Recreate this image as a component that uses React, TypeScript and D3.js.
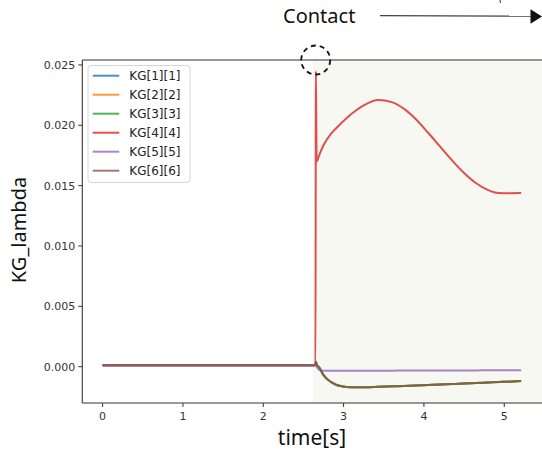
import React from "react";
import * as d3 from "d3";

// sampled times [s]
var timePre = [0, 0.5, 1.0, 1.5, 2.0, 2.5, 2.65];
var timePost = [2.655, 2.665, 2.7, 2.75, 2.85, 2.96, 3.1, 3.25, 3.43, 3.6, 3.75, 3.9, 4.05, 4.2, 4.35, 4.5, 4.65, 4.8, 4.93, 5.05, 5.21];
var times = timePre.concat(timePost);

// KG values (diag), same sample times as above
var preVals = [0.00012, 0.00012, 0.00012, 0.00012, 0.00012, 0.00012, 0.00012];

var kg4 = preVals.concat([0.0245, 0.0170, 0.0176, 0.01835, 0.01935, 0.0201, 0.02095, 0.02165, 0.0221, 0.02192, 0.02138, 0.0205, 0.0194, 0.01825, 0.0171, 0.01605, 0.0152, 0.01463, 0.01439, 0.01437, 0.01438]);
var kg5 = preVals.concat([0.00012, 0.0, -0.0003, -0.00033, -0.00033, -0.00033, -0.00033, -0.00033, -0.00033, -0.00033, -0.00032, -0.00032, -0.00032, -0.00032, -0.00031, -0.00031, -0.00031, -0.0003, -0.0003, -0.0003, -0.0003]);
var kgMain = preVals.concat([0.0004, 0.0002, -0.0001, -0.0007, -0.0013, -0.0016, -0.0017, -0.0017, -0.00167, -0.00163, -0.0016, -0.00156, -0.00152, -0.00148, -0.00144, -0.0014, -0.00135, -0.00131, -0.00127, -0.00124, -0.00119]);

var labels = ["KG[1][1]", "KG[2][2]", "KG[3][3]", "KG[4][4]", "KG[5][5]", "KG[6][6]"];
var colors = ["#1f77b4", "#ff7f0e", "#2ca02c", "#d62728", "#9467bd", "#8c564b"];
var seriesVals = [kgMain, kgMain, kgMain, kg4, kg5, kgMain];

var xTicks = [0, 1, 2, 3, 4, 5];
var yTicks = [0, 0.005, 0.01, 0.015, 0.02, 0.025];
var contactStart = 2.62;

export default function App() {
  var width = 542;
  var height = 450;
  var left = 82.3;
  var top = 60;
  var bottom = 403;
  var right = 560;

  var xScale = d3.scaleLinear().domain([-0.253, 5.47]).range([left, 542]);
  var yScale = d3.scaleLinear().domain([-0.00301, 0.02541]).range([bottom, top]);

  var line = d3
    .line<number>()
    .x((d, i) => xScale(times[i]))
    .y(d => yScale(d))
    .curve(d3.curveMonotoneX);

  var tickFont = "DejaVu Sans, sans-serif";
  var labelFont = "Noto Sans, sans-serif";

  return (
    <svg
      width={width}
      height={height}
      style={{ position: "absolute", left: 0, top: 0, background: "#fff" }}
    >
      <defs>
        <clipPath id="plotclip">
          <rect x={left} y={top} width={right - left} height={bottom - top} />
        </clipPath>
      </defs>

      {/* contact region */}
      <rect
        x={xScale(contactStart)}
        y={top}
        width={right - xScale(contactStart)}
        height={bottom - top}
        fill="#f6f8f1"
      />

      <g clipPath="url(#plotclip)">
        {seriesVals.map((vals, i) => (
          <path
            key={labels[i]}
            d={line(vals) || ""}
            fill="none"
            stroke={colors[i]}
            strokeWidth={2}
            strokeOpacity={0.8}
          />
        ))}
      </g>

      {/* frame */}
      <line x1={left} x2={left} y1={top} y2={bottom} stroke="#333" strokeWidth={1.1} />
      <line x1={left} x2={right} y1={top} y2={top} stroke="#333" strokeWidth={1.1} />
      <line x1={left} x2={right} y1={bottom} y2={bottom} stroke="#333" strokeWidth={1.1} />

      {xTicks.map(t => (
        <g key={"x" + t}>
          <line x1={xScale(t)} x2={xScale(t)} y1={bottom} y2={bottom + 4} stroke="#333" />
          <text
            x={xScale(t)}
            y={bottom + 17}
            textAnchor="middle"
            fontFamily={tickFont}
            fontSize={11}
            fill="#333"
          >
            {t}
          </text>
        </g>
      ))}

      {yTicks.map(t => (
        <g key={"y" + t}>
          <line x1={left - 4} x2={left} y1={yScale(t)} y2={yScale(t)} stroke="#333" />
          <text
            x={left - 7}
            y={yScale(t) + 4}
            textAnchor="end"
            fontFamily={tickFont}
            fontSize={11}
            fill="#333"
          >
            {t.toFixed(3)}
          </text>
        </g>
      ))}

      {/* axis labels */}
      <text x={312} y={445} textAnchor="middle" fontFamily={labelFont} fontSize={21} fill="#111">
        time[s]
      </text>
      <text
        transform={"translate(26," + 230 + ") rotate(-90)"}
        textAnchor="middle"
        fontFamily={labelFont}
        fontSize={20}
        fill="#111"
      >
        KG_lambda
      </text>

      {/* legend */}
      <rect x={88} y={65.5} width={102} height={117} rx={3} fill="#fff" fillOpacity={0.85} stroke="#d6d6d6" />
      {labels.map((lab, i) => (
        <g key={"leg" + lab}>
          <line
            x1={92.7}
            x2={119.3}
            y1={75.7 + i * 19}
            y2={75.7 + i * 19}
            stroke={colors[i]}
            strokeWidth={2}
            strokeOpacity={0.8}
          />
          <text x={129.3} y={75.7 + i * 19 + 4.3} fontFamily={tickFont} fontSize={12} fill="#222">
            {lab}
          </text>
        </g>
      ))}

      {/* contact annotation */}
      <circle
        cx={315.7}
        cy={60}
        r={14.5}
        fill="none"
        stroke="#111"
        strokeWidth={1.8}
        strokeDasharray="5,4"
      />
      <text x={283} y={23} fontFamily={labelFont} fontSize={20} fill="#111">
        Contact
      </text>
      <line x1={380} x2={531} y1={15.7} y2={16.2} stroke="#444" strokeWidth={1.3} />
      <path d="M530.5,9.3 L542,16.5 L530.5,23.8 Z" fill="#111" />
      <line x1={500} x2={500.5} y1={0} y2={3} stroke="#333" strokeWidth={1} />
    </svg>
  );
}
